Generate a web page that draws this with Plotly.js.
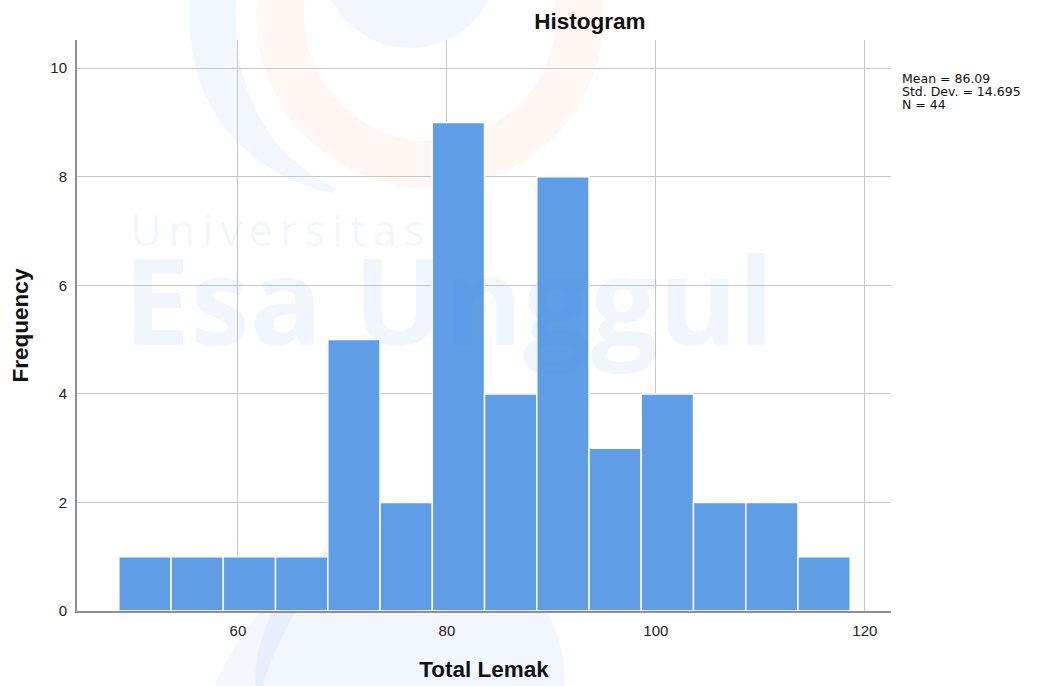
<!DOCTYPE html>
<html>
<head>
<meta charset="utf-8">
<script src="https://cdn.plot.ly/plotly-3.0.1.min.js"></script>
<style>html,body{margin:0;padding:0;background:#fff;}#chart{width:1037px;height:686px;}</style>
</head>
<body>
<div id="chart"></div>
<script>
// Histogram bins (Total Lemak), bin width 5
const binCenters = [51.1, 56.1, 61.1, 66.1, 71.1, 76.1, 81.1, 86.1, 91.1, 96.1, 101.1, 106.1, 111.1, 116.1];
const binWidth = 5;
const counts = [1, 1, 1, 1, 5, 2, 9, 4, 8, 3, 4, 2, 2, 1];
const xTicks = [60, 80, 100, 120];
const yTicks = [0, 2, 4, 6, 8, 10];
const statsLines = ["Mean = 86.09", "Std. Dev. = 14.695", "N = 44"];

const FONT = "Liberation Sans, Arial, sans-serif";
const WIDE = "DejaVu Sans, sans-serif";
const wmBlue = "rgba(70,130,230,0.075)";

// pixel -> paper helpers (plot area: x 77..891, y 40..611)
const PL = 77, PW = 814, PT = 40, PH = 571;
const px = v => (v - PL) / PW;
const py = v => 1 - (v - PT) / PH;
const P = (x, y) => px(x).toFixed(4) + "," + py(y).toFixed(4);

const trace = {
  type: "bar",
  x: binCenters,
  y: counts,
  width: binCenters.map(() => binWidth),
  marker: { color: "#5f9de6", line: { color: "#ffffff", width: 1.5 } },
  hoverinfo: "x+y"
};

const annotations = statsLines.map((t, i) => ({
  xref: "paper", yref: "paper",
  x: px(901), y: py(79 + i * 12.5),
  xanchor: "left", yanchor: "middle",
  text: t, showarrow: false, borderpad: 0,
  font: { family: WIDE, size: 12.5, color: "#111" }
}));

// faint watermark text (one block, two lines)
const thin = "\u2009";
annotations.push({
  xref: "paper", yref: "paper", x: px(122), y: py(290), xanchor: "left", yanchor: "middle", borderpad: 0,
  align: "left", showarrow: false,
  text: "<span style='font-size:43px'>" + thin + "Universitas".split("").join(thin) + "</span><br>" +
        "<span style='font-size:120px'><b>Esa Unggul</b></span>",
  font: { family: "Open Sans, sans-serif", size: 76, color: wmBlue }
});

const layout = {
  width: 1037, height: 686,
  margin: { l: 77, r: 146, t: 40, b: 75 },
  paper_bgcolor: "#ffffff", plot_bgcolor: "#ffffff",
  showlegend: false,
  bargap: 0,
  font: { family: FONT, color: "#222" },
  title: {
    text: "<b>Histogram</b>",
    x: 590 / 1037, xref: "container", xanchor: "center",
    y: 1 - 21 / 686, yref: "container", yanchor: "middle",
    font: { family: FONT, size: 22.5, color: "#111" }
  },
  xaxis: {
    range: [44.6, 122.5],
    tickvals: xTicks, ticktext: xTicks.map(String),
    showgrid: true, gridcolor: "#c8c8c8", gridwidth: 1,
    zeroline: false,
    showline: true, linecolor: "#8f8f8f", linewidth: 2,
    ticks: "", ticklabelstandoff: 5,
    tickfont: { family: FONT, size: 15, color: "#222" },
    title: { text: "<b>Total Lemak</b>", standoff: 23, font: { family: FONT, size: 22.5, color: "#111" } },
    automargin: false, fixedrange: true
  },
  yaxis: {
    range: [0, 10.52],
    tickvals: yTicks, ticktext: yTicks.map(String),
    showgrid: true, gridcolor: "#c8c8c8", gridwidth: 1,
    zeroline: false,
    showline: true, linecolor: "#8f8f8f", linewidth: 2,
    ticks: "", ticklabelstandoff: 5,
    tickfont: { family: FONT, size: 15, color: "#222" },
    title: { text: "<b>Frequency</b>", standoff: 15, font: { family: FONT, size: 22.5, color: "#111" } },
    automargin: false, fixedrange: true
  },
  annotations: annotations,
  shapes: [
    // blue half-disc at top
    { type: "circle", xref: "paper", yref: "paper", layer: "below",
      x0: px(410 - 88), x1: px(410 + 88), y0: py(-40 + 88), y1: py(-40 - 88),
      fillcolor: "rgba(70,130,230,0.07)", line: { width: 0 } },
    // orange arc
    { type: "circle", xref: "paper", yref: "paper", layer: "below",
      x0: px(430 - 150), x1: px(430 + 150), y0: py(15 + 150), y1: py(15 - 150),
      line: { color: "rgba(250,120,60,0.06)", width: 48 } },
    // left blue crescent
    { type: "path", xref: "paper", yref: "paper", layer: "below",
      path: "M" + P(190, 0) + " C" + P(183, 100) + " " + P(240, 172) + " " + P(332, 193) +
            " L" + P(336, 188) + " C" + P(275, 160) + " " + P(232, 100) + " " + P(236, 0) + " Z",
      fillcolor: "rgba(70,130,230,0.07)", line: { width: 0 } },
    // bottom blue disc
    { type: "circle", xref: "paper", yref: "paper", layer: "below",
      x0: px(410 - 155), x1: px(410 + 155), y0: py(683 + 155), y1: py(683 - 155),
      fillcolor: "rgba(70,130,230,0.07)", line: { width: 0 } },
    // bottom-left streak
    { type: "path", xref: "paper", yref: "paper", layer: "below",
      path: "M" + P(214, 686) + " Q" + P(258, 592) + " " + P(332, 545) +
            " L" + P(340, 551) + " Q" + P(286, 612) + " " + P(262, 686) + " Z",
      fillcolor: "rgba(70,130,230,0.06)", line: { width: 0 } }
  ]
};

Plotly.newPlot("chart", [trace], layout, { displayModeBar: false, staticPlot: true });
</script>
</body>
</html>
